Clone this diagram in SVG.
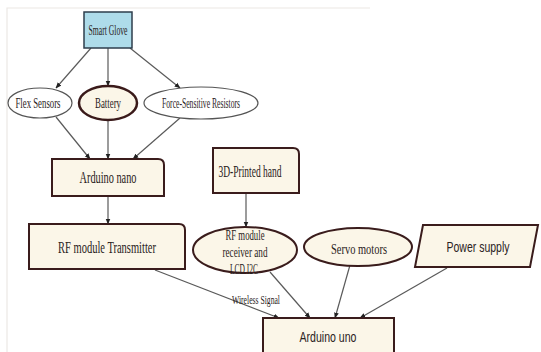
<svg xmlns="http://www.w3.org/2000/svg" width="541" height="352" viewBox="0 0 541 352">
<defs>
<style>
.lbl{font-family:"Liberation Serif","Times New Roman",serif;font-size:15px;fill:#2a2222;text-anchor:middle}
.sans{font-family:"Liberation Sans",Arial,sans-serif;font-size:15px;fill:#2a2222;text-anchor:middle}
.node{fill:#fbf6e8;stroke:#3a1c1c;stroke-width:2}
.thin{fill:#ffffff;stroke:#555;stroke-width:1.2}
.edge{fill:none;stroke:#5a5a5a;stroke-width:1.2;marker-end:url(#ah)}
</style>
<marker id="ah" viewBox="0 0 10 10" refX="9" refY="5" markerWidth="6" markerHeight="6" orient="auto" markerUnits="userSpaceOnUse">
<path d="M0,1 L10,5 L0,9 z" fill="#222"/>
</marker>
</defs>
<rect width="541" height="352" fill="#ffffff"/>
<path d="M7,352 V8 H370" fill="none" stroke="#ece8e4" stroke-width="1.2"/>
<g id="connectors">
<line class="edge" x1="91" y1="48" x2="56" y2="88"/>
<line class="edge" x1="108" y1="48" x2="108" y2="86"/>
<line class="edge" x1="130" y1="48" x2="180" y2="88"/>
<line class="edge" x1="56" y1="117" x2="90" y2="159"/>
<line class="edge" x1="108" y1="120" x2="108" y2="159"/>
<line class="edge" x1="180" y1="118" x2="133" y2="159"/>
<line class="edge" x1="108" y1="196" x2="108" y2="224"/>
<line class="edge" x1="246" y1="193" x2="246" y2="227"/>
<line class="edge" x1="155" y1="270" x2="279" y2="318"/>
<line class="edge" x1="270" y1="272" x2="310" y2="318"/>
<line class="edge" x1="350" y1="265" x2="335" y2="318"/>
<line class="edge" x1="447" y1="268" x2="360" y2="318"/>
<text class="lbl" x="256" y="304" style="font-size:13px" textLength="48" lengthAdjust="spacingAndGlyphs" fill="#444">Wireless Signal</text>
</g>
<g id="smart-glove">
<rect x="84" y="12" width="48" height="36" fill="#aedcea" stroke="#2e3e4c" stroke-width="1.5"/>
<text class="lbl" x="108" y="35" fill="#1e3040" textLength="39" lengthAdjust="spacingAndGlyphs">Smart Glove</text>
</g>
<g id="flex-sensors">
<ellipse class="thin" cx="40" cy="103" rx="32" ry="15"/>
<text class="lbl" x="38" y="108" textLength="45" lengthAdjust="spacingAndGlyphs">Flex Sensors</text>
</g>
<g id="battery">
<ellipse cx="108" cy="103" rx="29" ry="17" fill="#fbf6e8" stroke="#3a1a1a" stroke-width="2.5"/>
<text class="lbl" x="108" y="108" textLength="26" lengthAdjust="spacingAndGlyphs">Battery</text>
</g>
<g id="force-sensitive-resistors">
<ellipse class="thin" cx="201" cy="103" rx="57" ry="16"/>
<text class="lbl" x="201" y="108" textLength="78" lengthAdjust="spacingAndGlyphs">Force-Sensitive Resistors</text>
</g>
<g id="arduino-nano">
<path class="node" d="M52,159 H158 Q164,159 164,165 V196 H52 Z"/>
<text class="lbl" x="108" y="183" style="font-size:16px" textLength="57" lengthAdjust="spacingAndGlyphs">Arduino nano</text>
</g>
<g id="printed-hand">
<path class="node" d="M213,148 H293 Q299,148 299,154 V193 H213 Z"/>
<text class="lbl" x="250" y="177" style="font-size:16px" textLength="63" lengthAdjust="spacingAndGlyphs">3D-Printed hand</text>
</g>
<g id="rf-transmitter">
<path class="node" d="M29,224 H179 Q185,224 185,230 V269 H29 Z"/>
<text class="lbl" x="107" y="253" style="font-size:16px" textLength="98" lengthAdjust="spacingAndGlyphs">RF module Transmitter</text>
</g>
<g id="rf-receiver">
<ellipse class="node" cx="245" cy="250" rx="52" ry="23"/>
<text class="lbl" x="245" y="240" textLength="39" lengthAdjust="spacingAndGlyphs">RF module</text>
<text class="lbl" x="245" y="257" textLength="45" lengthAdjust="spacingAndGlyphs">receiver and</text>
<text class="lbl" x="244" y="274" textLength="28" lengthAdjust="spacingAndGlyphs">LCD I2C</text>
</g>
<g id="servo-motors">
<ellipse class="node" cx="358" cy="247" rx="54" ry="19"/>
<text class="lbl" x="359" y="254" textLength="56" lengthAdjust="spacingAndGlyphs">Servo motors</text>
</g>
<g id="power-supply">
<path class="node" d="M423,225 H538 L530,267 H415 Z"/>
<text class="sans" x="478" y="252" textLength="63" lengthAdjust="spacingAndGlyphs">Power supply</text>
</g>
<g id="arduino-uno">
<rect class="node" x="263" y="318" width="131" height="40"/>
<text class="sans" x="328" y="342" textLength="57" lengthAdjust="spacingAndGlyphs">Arduino uno</text>
</g>
</svg>
